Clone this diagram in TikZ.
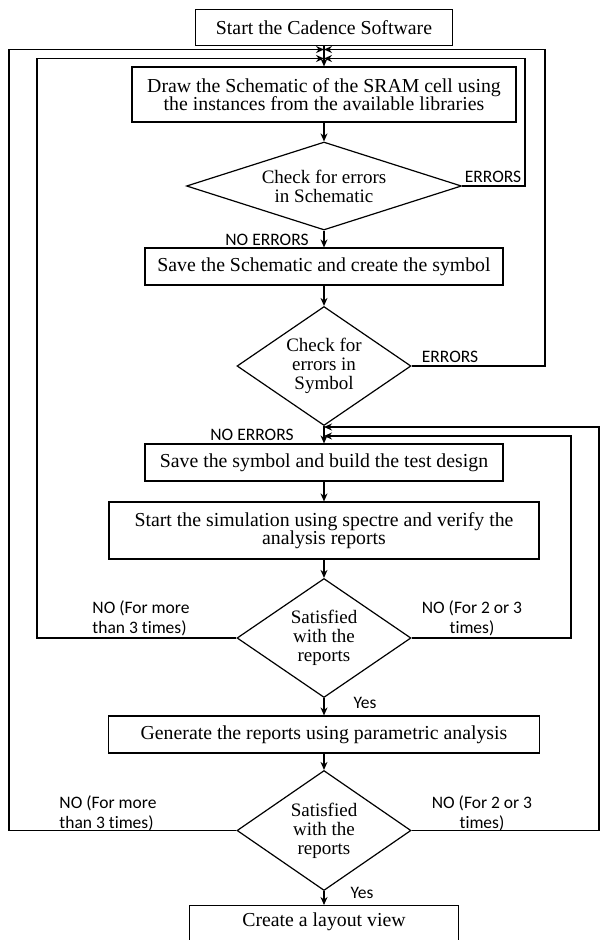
\documentclass[tikz,border=0pt]{standalone}
\usepackage{fontspec}
\setmainfont{Liberation Serif}
\newfontfamily\lblfont[Ligatures=NoCommon]{Carlito}
\usetikzlibrary{shapes.geometric,arrows.meta}

\begin{document}
\begin{tikzpicture}[x=1pt,y=-1pt,line width=1.2pt,
  >={Stealth[length=8pt,width=7pt]},
  box/.style={draw,rectangle,inner sep=0pt,align=center,
    font=\fontsize{19.8}{18.5}\selectfont},
  chk/.style={draw,diamond,inner sep=0pt,align=center,
    font=\fontsize{19}{19}\selectfont},
  lbl/.style={inner sep=0pt,align=center,
    font=\lblfont\fontsize{17.5}{20}\selectfont}]
  \useasboundingbox (0,0) rectangle (600,940);

  % main column
  \node[box,minimum width=257pt,minimum height=36pt] (start) at (324,27.5) {Start the Cadence Software};
  \node[box,minimum width=384pt,minimum height=55pt] (schem) at (324,94.5) {Draw the Schematic of the SRAM cell using\\the instances from the available libraries};
  \node[chk,minimum width=275pt,minimum height=88pt,aspect=3.1] (chkschem) at (324,186) {Check for errors\\in Schematic};
  \node[box,minimum width=358pt,minimum height=37pt] (savesch) at (324,266.5) {Save the Schematic and create the symbol};
  \node[chk,minimum width=174pt,minimum height=119pt,aspect=1.46] (chksym) at (324,366) {Check for\\errors in\\Symbol};
  \node[box,minimum width=358pt,minimum height=37pt] (savesym) at (324,462.5) {Save the symbol and build the test design};
  \node[box,minimum width=430pt,minimum height=57pt] (sim) at (324,530.5) {Start the simulation using spectre and verify the\\analysis reports};
  \node[chk,minimum width=174pt,minimum height=119pt,aspect=1.46] (sat1) at (324,638) {Satisfied\\with the\\reports};
  \node[box,minimum width=431pt,minimum height=37pt] (param) at (324,734.5) {Generate the reports using parametric analysis};
  \node[chk,minimum width=174pt,minimum height=120pt,aspect=1.46] (sat2) at (324,830.5) {Satisfied\\with the\\reports};
  \node[box,anchor=north,minimum width=269pt,text height=21pt,text depth=40pt] (layout) at (324,905) {Create a layout view};

  \draw[->] (start) -- (schem);
  \draw[->] (schem) -- (chkschem);
  \draw[->] (chkschem) -- (savesch);
  \draw[->] (savesch) -- (chksym);
  \draw[->] (chksym) -- (savesym);
  \draw[->] (savesym) -- (sim);
  \draw[->] (sim) -- (sat1);
  \draw[->] (sat1) -- (param);
  \draw[->] (param) -- (sat2);
  \draw[->] (sat2) -- (layout);

  % feedback loops
  \coordinate (join1) at (324,49.5);
  \coordinate (join2) at (324,58.5);
  \coordinate (join3) at (324,427);
  \coordinate (join4) at (324,436);
  \coordinate (outerL) at (9,49.5);
  \coordinate (outerR) at (545,49.5);
  \coordinate (innerL) at (37,58.5);
  \coordinate (innerR) at (525,58.5);
  \coordinate (farR) at (599,427);
  \coordinate (midR) at (571,436);
  \draw[->] (sat2.west) -| (outerL) -- (join1);
  \draw[->] (chksym.east) -| (outerR) -- (join1);
  \draw[->] (sat1.west) -| (innerL) -- (join2);
  \draw[->] (chkschem.east) -| (innerR) -- (join2);
  \draw[->] (sat2.east) -| (farR) -- (join3);
  \draw[->] (sat1.east) -| (midR) -- (join4);

  % labels
  \node[lbl] (err1) at (493,177) {ERRORS};
  \node[lbl] (err2) at (450,357) {ERRORS};
  \node[lbl] (noerr1) at (267,240) {NO ERRORS};
  \node[lbl] (noerr2) at (252,435) {NO ERRORS};
  \node[lbl,align=left] (more1) at (141,618) {NO (For more\\than 3 times)};
  \node[lbl] (few1) at (472,618) {NO (For 2 or 3\\times)};
  \node[lbl,align=left] (more2) at (108,813) {NO (For more\\than 3 times)};
  \node[lbl] (few2) at (482,813) {NO (For 2 or 3\\times)};
  \node[lbl] (yes1) at (365,703) {Yes};
  \node[lbl] (yes2) at (362,893) {Yes};
\end{tikzpicture}
\end{document}
